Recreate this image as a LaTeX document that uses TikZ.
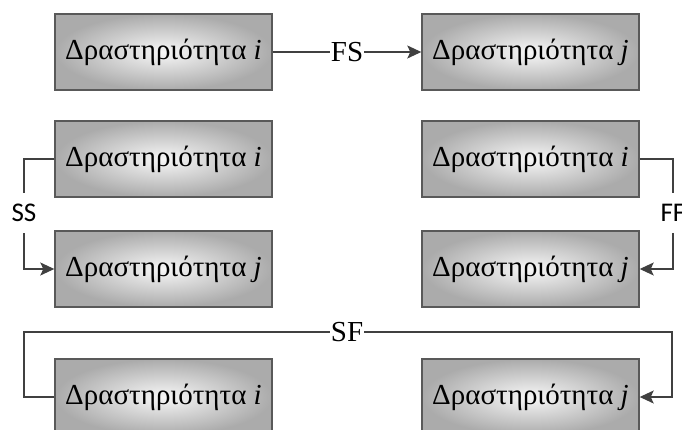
\documentclass[tikz,border=0pt]{standalone}
\usepackage{fontspec}
\setmainfont{Liberation Serif}
\newfontfamily\boxserif{Liberation Serif}
\newfontfamily\labelsans{Carlito}
\usetikzlibrary{arrows.meta}
\begin{document}
\begin{tikzpicture}[x=1pt,y=-1pt,
  activity/.style={draw=black!65, line width=1.4pt, shading=radial,
    inner color=white!94!gray, outer color=black!33,
    minimum width=217pt, minimum height=76pt, inner sep=0pt,
    font=\boxserif\fontsize{29}{32}\selectfont, text=black},
  link/.style={draw=black!75, line width=1.3pt},
  tip/.style={-{Stealth[length=14pt,width=13pt,inset=3pt]}},
  hlabel/.style={font=\boxserif\fontsize{29}{32}\selectfont, inner xsep=1pt, inner ysep=0pt},
  vlabel/.style={font=\labelsans\fontsize{27}{30}\selectfont, inner xsep=0pt, inner ysep=11pt}]
  \useasboundingbox (0,0) rectangle (682,430);

  % Finish-to-Start
  \node[activity] (fsi) at (163.5,52) {Δραστηριότητα \textit{i}};
  \node[activity] (fsj) at (530.5,52) {Δραστηριότητα \textit{j}};
  \node[hlabel] (fs) at (347,52) {FS};
  \draw[link] (fsi.east) -- (fs.west);
  \draw[link,tip] (fs.east) -- (fsj.west);

  % Start-to-Start
  \node[activity] (ssi) at (163.5,159) {Δραστηριότητα \textit{i}};
  \node[activity] (ssj) at (163.5,269) {Δραστηριότητα \textit{j}};
  \node[vlabel] (ss) at (24,213) {SS};
  \draw[link] (ssi.west) -| (ss.north);
  \draw[link,tip] (ss.south) |- (ssj.west);

  % Finish-to-Finish
  \node[activity] (ffi) at (530.5,159) {Δραστηριότητα \textit{i}};
  \node[activity] (ffj) at (530.5,269) {Δραστηριότητα \textit{j}};
  \node[vlabel] (ff) at (673,213) {FF};
  \draw[link] (ffi.east) -| (ff.north);
  \draw[link,tip] (ff.south) |- (ffj.east);

  % Start-to-Finish
  \node[activity] (sfi) at (163.5,397) {Δραστηριότητα \textit{i}};
  \node[activity] (sfj) at (530.5,397) {Δραστηριότητα \textit{j}};
  \node[hlabel] (sf) at (347,332) {SF};
  \coordinate (sfl) at (24,332);
  \coordinate (sfr) at (672,332);
  \draw[link] (sfi.west) -| (sfl) -- (sf.west);
  \draw[link,tip] (sf.east) -- (sfr) |- (sfj.east);
\end{tikzpicture}
\end{document}
